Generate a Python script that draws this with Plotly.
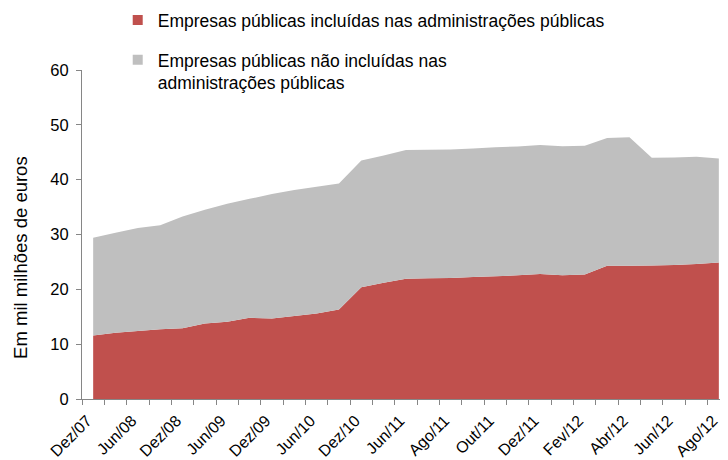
import plotly.graph_objects as go

# Categories (quarterly to Jun/11, then monthly)
categories = ["Dez/07", "Mar/08", "Jun/08", "Set/08", "Dez/08", "Mar/09", "Jun/09", "Set/09",
              "Dez/09", "Mar/10", "Jun/10", "Set/10", "Dez/10", "Mar/11", "Jun/11", "Jul/11",
              "Ago/11", "Set/11", "Out/11", "Nov/11", "Dez/11", "Jan/12", "Fev/12", "Mar/12",
              "Abr/12", "Mai/12", "Jun/12", "Jul/12", "Ago/12"]

# Empresas públicas incluídas nas administrações públicas (mil milhões de euros)
incluidas = [11.6, 12.1, 12.4, 12.7, 12.9, 13.75, 14.1, 14.8, 14.7, 15.15, 15.6, 16.3, 20.4, 21.2,
             21.95, 22.0, 22.05, 22.25, 22.4, 22.55, 22.8, 22.55, 22.7, 24.3, 24.3, 24.35, 24.45,
             24.6, 24.9]

# Empresas públicas não incluídas nas administrações públicas (mil milhões de euros)
nao_incluidas = [17.8, 18.2, 18.8, 19.0, 20.4, 20.75, 21.5, 21.7, 22.7, 22.95, 23.1, 23.0, 23.1,
                 23.2, 23.45, 23.45, 23.45, 23.45, 23.5, 23.5, 23.5, 23.55, 23.5, 23.3, 23.45,
                 19.65, 19.6, 19.6, 18.95]

series_names = ["Empresas públicas incluídas nas administrações públicas",
                "Empresas públicas não incluídas nas<br>administrações públicas"]
series_colors = ["#C0504D", "#BFBFBF"]

idx = list(range(len(categories)))
tick_idx = idx[::2]
tick_text = [categories[i] for i in tick_idx]

FONT = "Liberation Sans, Arial, sans-serif"
AXIS_COLOR = "#868686"

# page body has an 8px margin: figure sized to fit the 728x460 window
W, H = 720, 452
ML, MT = 74.3, 62
PH = 329.5
PW = W - ML

fig = go.Figure()
for name, vals, col in zip(series_names, [incluidas, nao_incluidas], series_colors):
    fig.add_trace(go.Scatter(
        x=idx, y=vals, stackgroup="one", mode="none",
        fillcolor=col, line=dict(width=0), showlegend=False, hoverinfo="skip",
    ))
# legend entries (square swatches)
for i, (name, col) in enumerate(zip(series_names, series_colors)):
    fig.add_trace(go.Scatter(
        x=[None], y=[None], mode="markers", name=name, legendgroup=f"g{i}",
        marker=dict(symbol="square", size=10, color=col),
    ))

fig.update_layout(
    width=W, height=H,
    margin=dict(l=ML, r=0, t=MT, b=H - MT - PH, autoexpand=False),
    paper_bgcolor="white", plot_bgcolor="white",
    font=dict(family=FONT, size=14, color="#000000"),
    showlegend=True,
    legend=dict(
        x=(110 - ML) / PW, y=1 + (MT + 6) / PH, xanchor="left", yanchor="top",
        font=dict(size=17.5), traceorder="grouped", tracegroupgap=14,
        valign="top", itemwidth=30, bgcolor="rgba(0,0,0,0)",
    ),
    xaxis=dict(
        range=[-0.5, 28.41], tickmode="array", tickvals=tick_idx, ticktext=tick_text,
        tickangle=-45, ticks="", showline=True, linecolor=AXIS_COLOR, linewidth=1,
        showgrid=False, zeroline=False, tickfont=dict(size=16),
        ticklabelshift=-6, ticklabelstandoff=5,
        minor=dict(tickvals=[i + 0.5 for i in range(-1, 29)], ticks="outside",
                   ticklen=5, tickcolor=AXIS_COLOR, tickwidth=1, showgrid=False),
    ),
    yaxis=dict(
        range=[0, 60], dtick=10, ticks="outside", ticklen=5, tickcolor=AXIS_COLOR,
        showline=True, linecolor=AXIS_COLOR, linewidth=1, showgrid=False, zeroline=False,
        tickfont=dict(size=16.5), ticklabelstandoff=4,
    ),
    annotations=[dict(
        text="Em mil milhões de euros", textangle=-90, showarrow=False,
        xref="paper", yref="paper", x=(21 - 8 - ML) / PW, y=(399.5 - 257.5) / PH,
        xanchor="center", yanchor="middle", borderpad=0,
        font=dict(size=18.5),
    )],
)

fig.write_html("out.html")
